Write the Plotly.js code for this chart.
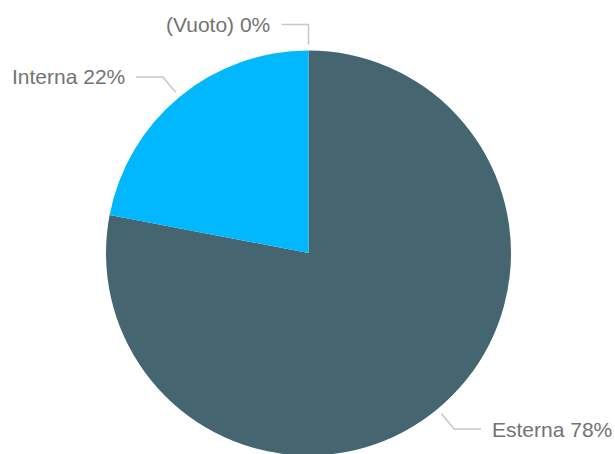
<!DOCTYPE html>
<html>
<head>
<meta charset="utf-8">
<script src="https://cdn.plot.ly/plotly-3.0.1.min.js"></script>
<style>
html,body{margin:0;padding:0;overflow:hidden;background:#fff;}
#chart{width:615px;height:456px;}
</style>
</head>
<body>
<div id="chart"></div>
<script>
const categories = ["Esterna", "Interna", "(Vuoto)"];
const values = [78, 22, 0];
const colors = ["#456571", "#01B8FF", "#A0A0A0"];

const W = 615, H = 456;
const cx = 308.5, cy = 253, R = 202.5;   // pie placement in pixels (layout)

const domX = [(cx - R) / W, (cx + R) / W];
const domY = [(H - cy - R) / H, (H - cy + R) / H];

const total = values.reduce((a, b) => a + b, 0);
const shapes = [];
const annotations = [];
let cum = 0;
const px = x => x / W;
const py = y => (H - y) / H;
values.forEach((v, i) => {
  const frac = v / total;
  const mid = (cum + frac / 2) * 2 * Math.PI;
  cum += frac;
  const dx = Math.sin(mid), dy = -Math.cos(mid);
  const x1 = cx + dx * (R + 6), y1 = cy + dy * (R + 6);
  const x2 = cx + dx * (R + 26), y2 = cy + dy * (R + 26);
  const left = dx < -1e-9 || (Math.abs(dx) < 1e-9);
  const x3 = left ? x2 - 27 : x2 + 27;
  shapes.push({
    type: "path", xref: "paper", yref: "paper",
    path: `M ${px(x1)} ${py(y1)} L ${px(x2)} ${py(y2)} L ${px(x3)} ${py(y2)}`,
    line: {color: "#c8c8c8", width: 1.5}
  });
  const pct = Math.round(frac * 100);
  annotations.push({
    xref: "paper", yref: "paper",
    x: px(left ? x3 - 9 : x3 + 9), y: py(y2),
    xanchor: left ? "right" : "left", yanchor: "middle",
    text: `${categories[i]} ${pct}%`, showarrow: false,
    font: {family: "Liberation Sans, Arial, sans-serif", size: 21, color: "#737373"}
  });
});

const data = [{
  type: "pie",
  labels: categories,
  values: values,
  sort: false,
  direction: "clockwise",
  rotation: 0,
  textinfo: "none",
  hoverinfo: "skip",
  marker: {colors: colors, line: {width: 0}},
  domain: {x: domX, y: domY},
  showlegend: false
}];

const layout = {
  width: W, height: H,
  margin: {l: 0, r: 0, t: 0, b: 0},
  paper_bgcolor: "#ffffff",
  showlegend: false,
  shapes: shapes,
  annotations: annotations
};

Plotly.newPlot("chart", data, layout, {displayModeBar: false, staticPlot: true});
</script>
</body>
</html>
